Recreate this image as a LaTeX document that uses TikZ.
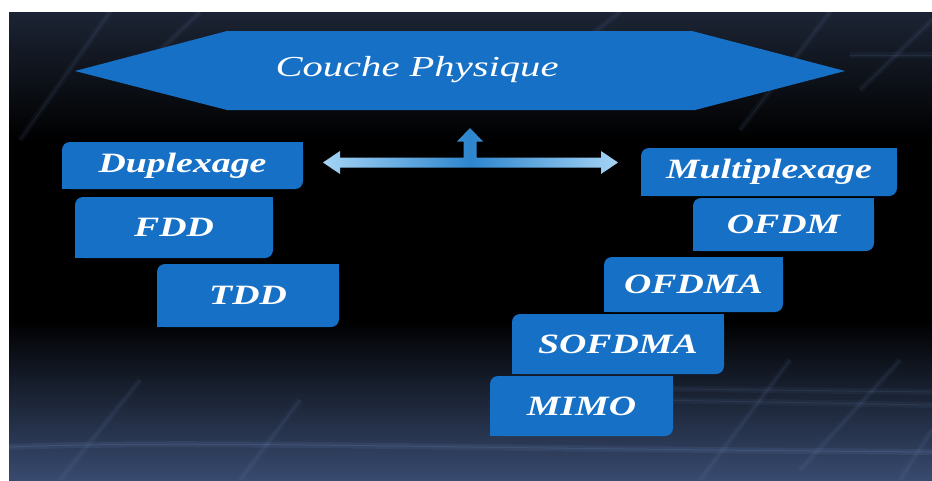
\documentclass[tikz,border=0pt]{standalone}
\usepackage{fontspec}
\newfontfamily\boxfont[FakeStretch=1.35]{Liberation Serif}
\newfontfamily\physfont[FakeStretch=1.4]{Liberation Serif}
\usetikzlibrary{calc}
\definecolor{boxblue}{RGB}{22,112,198}
\definecolor{bgtop}{RGB}{28,36,52}
\definecolor{bgbot}{RGB}{56,74,110}
\definecolor{streak}{RGB}{110,140,190}
\definecolor{arrlight}{RGB}{165,212,245}
\definecolor{arrdark}{RGB}{46,134,206}
\tikzset{
  box/.style={fill=boxblue, rounded corners=8pt, inner sep=0pt, text=white,
    font=\boxfont\fontsize{28}{30}\selectfont\bfseries\itshape},
  streakline/.style={streak, line width=6pt, opacity=0.07},
  streakcore/.style={streak, line width=1pt, opacity=0.12},
  hexshape/.style={fill=boxblue}
}
\newcommand\sqcorners[1]{%
  \fill[boxblue] (#1.north east) rectangle ++(-10pt,-10pt);
  \fill[boxblue] (#1.south west) rectangle ++(10pt,10pt);}
\newcommand\streak[2]{\draw[streakline] #1 -- #2; \draw[streakcore] #1 -- #2;}
\begin{document}
\begin{tikzpicture}[x=1pt,y=-1pt]
\useasboundingbox (0,0) rectangle (932,480);
\fill[white] (0,0) rectangle (932,480);
% background
\begin{scope}
  \clip (9,12) rectangle (932,480);
  \fill[black] (9,12) rectangle (932,480);
  \shade[top color=bgtop, bottom color=black] (9,12) rectangle (932,140);
  \shade[top color=black, bottom color=bgbot] (9,320) rectangle (932,480);
  \streak{(20,140)}{(110,12)}
  \streak{(150,60)}{(200,12)}
  \streak{(560,60)}{(620,12)}
  \streak{(740,130)}{(830,12)}
  \streak{(860,90)}{(932,20)}
  \streak{(60,480)}{(140,380)}
  \streak{(240,480)}{(300,400)}
  \streak{(700,480)}{(790,360)}
  \streak{(800,470)}{(900,360)}
  \streak{(900,480)}{(932,430)}
  \draw[streakline, opacity=0.12] (9,447) .. controls (200,440) and (400,448) .. (932,452);
  \draw[streakcore, opacity=0.2] (9,447) .. controls (200,440) and (400,448) .. (932,452);
  \streak{(600,388)}{(932,392)}
  \streak{(650,400)}{(932,405)}
  \streak{(850,55)}{(932,55)}
\end{scope}
% hexagon
\coordinate (hl) at (75,71);
\coordinate (hr) at (845,71);
\fill[hexshape] (hl) -- (227,31) -- (692,31) -- (hr) -- (695,110) -- (227,110) -- cycle;
\node[text=white, font=\physfont\fontsize{29}{32}\selectfont\itshape] (phys) at (417,70) {Couche Physique};
% boxes left
\node[box, minimum width=241pt, minimum height=47pt] (dup) at (182.5,165.5) {Duplexage};
\node[box, minimum width=198pt, minimum height=61pt] (fdd) at (174,227.5) {FDD};
\node[box, minimum width=182pt, minimum height=63pt] (tdd) at (248,295.5) {TDD};
% boxes right
\node[box, minimum width=256pt, minimum height=48pt] (mux) at (769,172) {Multiplexage};
\node[box, minimum width=181pt, minimum height=53pt] (ofdm) at (783.5,224.5) {OFDM};
\node[box, minimum width=179pt, minimum height=55pt] (ofdma) at (693.5,284.5) {OFDMA};
\node[box, minimum width=212pt, minimum height=60pt] (sofdma) at (618,344) {SOFDMA};
\node[box, minimum width=183pt, minimum height=60pt] (mimo) at (581.5,406) {MIMO};
\foreach \n in {dup,fdd,tdd,mux,ofdm,ofdma,sofdma,mimo}{\sqcorners{\n}}
% arrow
\coordinate (al) at (323,162.5);
\coordinate (ar) at (618,162.5);
\coordinate (au) at (470,128);
\shade[left color=arrlight, right color=arrlight, middle color=arrdark]
  (al) -- (340,151) -- (340,157.5) -- (463.5,157.5) -- (463.5,141.5) -- (457,141.5)
  -- (au) -- (483,141.5) -- (476.5,141.5) -- (476.5,157.5) -- (601,157.5)
  -- (601,151) -- (ar) -- (601,174) -- (601,167.5) -- (340,167.5) -- (340,174) -- cycle;
\end{tikzpicture}
\end{document}
